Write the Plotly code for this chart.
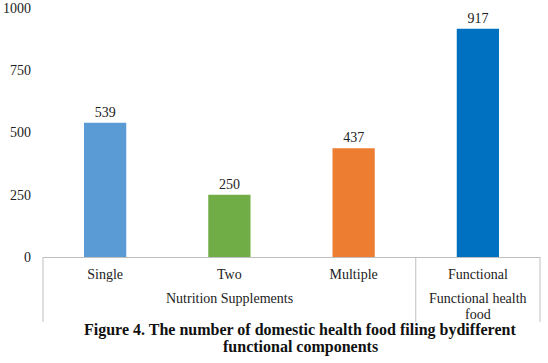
import plotly.graph_objects as go

categories = ["Single", "Two", "Multiple", "Functional"]
values = [539, 250, 437, 917]
colors = ["#5B9BD5", "#70AD47", "#ED7D31", "#0070C0"]
group_label_lines = [["Nutrition Supplements"], ["Functional health", "food"]]
group_sizes = [3, 1]
y_ticks = [0, 250, 500, 750, 1000]
title_lines = ["Figure 4. The number of domestic health food filing bydifferent",
               "functional components"]

FONT = "Liberation Serif, Times New Roman, serif"
TXT = "#222222"
LINE = "#BFBFBF"

fig = go.Figure(go.Bar(
    x=categories,
    y=values,
    marker=dict(color=colors, line=dict(width=0)),
    width=0.34,
    text=[str(v) for v in values],
    textposition="outside",
    textfont=dict(family=FONT, size=14, color=TXT),
    cliponaxis=False,
))

TOP, BOTTOM, H = 8, 106, 363
plot_h = H - TOP - BOTTOM
axis_px = TOP + plot_h


def py(pix):
    return (axis_px - pix) / plot_h


n = len(categories)
shapes = []
annotations = []
start = 0
bounds = [0]
for lines, size in zip(group_label_lines, group_sizes):
    end = start + size
    bounds.append(end)
    center = (start + end - 1) / 2
    for i, line in enumerate(lines):
        annotations.append(dict(
            text=line, xref="x", yref="paper", x=center, y=py(298 + 16 * i),
            xanchor="center", yanchor="middle", showarrow=False,
            font=dict(family=FONT, size=14, color=TXT),
        ))
    start = end
for b in bounds:
    shapes.append(dict(type="line", xref="paper", yref="paper",
                       x0=b / n, x1=b / n, y0=0, y1=py(322),
                       line=dict(color=LINE, width=1)))

for i, line in enumerate(title_lines):
    annotations.append(dict(
        text="<b>" + line + "</b>",
        xref="paper", yref="paper", x=0.518, y=py(330 + 17 * i),
        xanchor="center", yanchor="middle",
        showarrow=False, font=dict(family=FONT, size=16, color="#111111"),
    ))

fig.update_layout(
    width=548, height=H,
    margin=dict(l=43, r=8, t=TOP, b=BOTTOM),
    paper_bgcolor="white", plot_bgcolor="white",
    font=dict(family=FONT, size=14, color=TXT),
    showlegend=False,
    xaxis=dict(
        type="category", automargin=False,
        showline=True, linecolor=LINE, linewidth=1,
        ticks="", showgrid=False, ticklabelstandoff=4,
        tickfont=dict(family=FONT, size=14, color=TXT),
    ),
    yaxis=dict(
        range=[0, 1000], tickvals=y_ticks, showgrid=False, zeroline=False, automargin=False,
        showline=False, ticks="", tickfont=dict(family=FONT, size=14, color=TXT),
        ticklabelstandoff=11,
    ),
    shapes=shapes,
    annotations=annotations,
)

fig.write_html("out.html", config={"displayModeBar": False},
               post_script="document.body.style.margin='0px';")
